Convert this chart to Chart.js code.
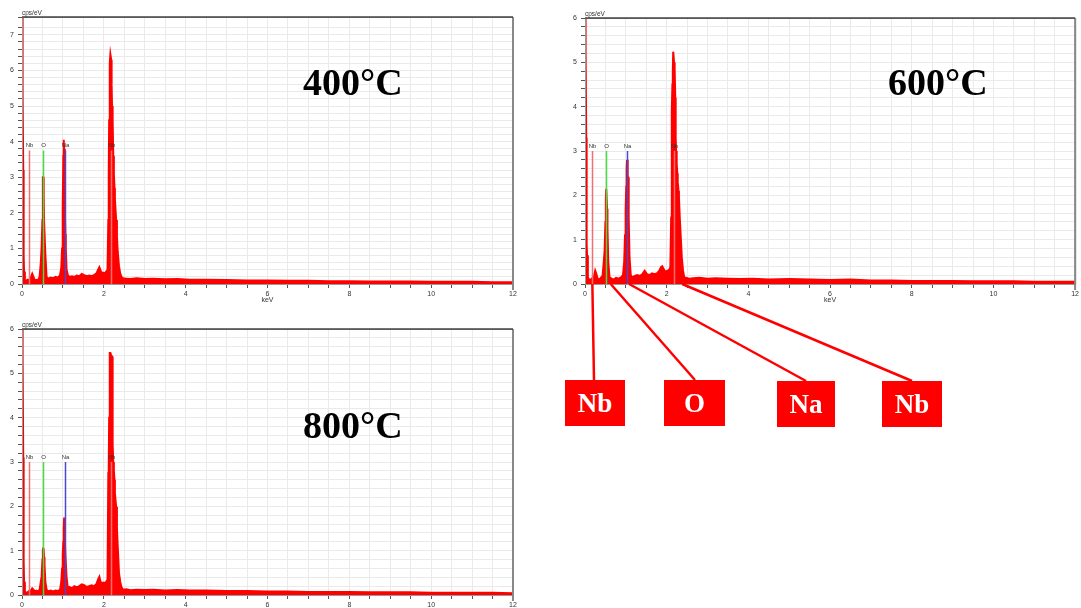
<!DOCTYPE html>
<html>
<head>
<meta charset="utf-8">
<script src="https://cdn.jsdelivr.net/npm/chart.js@4.4.1/dist/chart.umd.min.js"></script>
<style>
  html, body { margin: 0; padding: 0; background: #fff; overflow: hidden; width: 1081px; height: 608px; }
  canvas, .lbl, .box { position: absolute; }
  .lbl { font: bold 38px 'Liberation Serif', 'Times New Roman', serif; line-height: 38px; color: #000; white-space: nowrap; }
  .box { background: #ff0000; color: #fff; font: bold 27px 'Liberation Serif', 'Times New Roman', serif;
         display: flex; align-items: center; justify-content: center; z-index: 2; }
</style>
</head>
<body>
<canvas id="c400" width="525" height="310" style="left:0;top:0"></canvas>
<canvas id="c600" width="518" height="430" style="left:563px;top:0"></canvas>
<canvas id="c800" width="525" height="311" style="left:0;top:310px"></canvas>

<div class="lbl" style="left:303px;top:63px">400°C</div>
<div class="lbl" style="left:888px;top:63px">600°C</div>
<div class="lbl" style="left:303px;top:406px">800°C</div>

<div class="box" style="left:565px;top:380px;width:60px;height:46px">Nb</div>
<div class="box" style="left:664px;top:380px;width:61px;height:46px">O</div>
<div class="box" style="left:777px;top:381px;width:58px;height:46px">Na</div>
<div class="box" style="left:882px;top:381px;width:60px;height:46px">Nb</div>

<script>
// energy grid (keV), shared by the three spectra
const kev = [
  0.00, 0.01, 0.02, 0.03, 0.04, 0.05, 0.07, 0.10, 0.13, 0.16,
  0.19, 0.22, 0.25, 0.28, 0.31, 0.35, 0.39, 0.43, 0.46, 0.48,
  0.50, 0.51, 0.52, 0.53, 0.54, 0.55, 0.57, 0.60, 0.65, 0.70,
  0.76, 0.82, 0.88, 0.93, 0.96, 0.98, 0.99, 1.00, 1.01, 1.02,
  1.03, 1.04, 1.05, 1.06, 1.07, 1.09, 1.12, 1.16, 1.22, 1.28,
  1.34, 1.40, 1.46, 1.52, 1.58, 1.64, 1.70, 1.76, 1.82, 1.86,
  1.89, 1.92, 1.95, 1.98, 2.02, 2.06, 2.09, 2.11, 2.12, 2.13,
  2.14, 2.15, 2.16, 2.17, 2.18, 2.19, 2.20, 2.21, 2.22, 2.23,
  2.245, 2.26, 2.27, 2.29, 2.30, 2.32, 2.34, 2.37, 2.40, 2.43,
  2.47, 2.55, 2.65, 2.8, 3.0, 3.2, 3.5, 3.8, 4.1, 4.5,
  5.0, 5.5, 6.0, 6.5, 7.0, 7.5, 8.0, 8.5, 9.0, 9.5,
  10.0, 10.5, 11.0, 11.5, 12.0
];

// counts (cps/eV)
const cps400 = [
  7.6, 7.6, 5.3, 3.2, 0.8, 0.35, 0.1, 0.08, 0.12, 0.1,
  0.14, 0.2, 0.29, 0.2, 0.1, 0.12, 0.1, 0.2, 0.6, 1.05,
  1.8, 3.0, 3.0, 2.5, 1.75, 1.75, 0.85, 0.2, 0.15, 0.18,
  0.16, 0.2, 0.18, 0.25, 0.45, 1.0, 2.15, 2.15, 3.6, 4.05,
  3.8, 2.9, 2.15, 1.4, 1.0, 0.4, 0.25, 0.2, 0.22, 0.2,
  0.24, 0.22, 0.28, 0.25, 0.22, 0.24, 0.22, 0.25, 0.3, 0.4,
  0.47, 0.38, 0.3, 0.32, 0.3, 0.35, 0.4, 1.8, 3.1, 4.6,
  5.5, 6.2, 6.45, 6.45, 6.3, 5.6, 5.0, 4.6, 4.6, 3.6,
  3.1, 2.7, 2.4, 2.0, 1.8, 1.34, 0.9, 0.5, 0.3, 0.2,
  0.16, 0.15, 0.14, 0.16, 0.14, 0.15, 0.13, 0.14, 0.12, 0.12,
  0.11, 0.1, 0.1, 0.09, 0.09, 0.08, 0.08, 0.07, 0.07, 0.07,
  0.06, 0.06, 0.06, 0.05, 0.05
];
const cps600 = [
  6.1, 6.1, 5.2, 3.3, 0.9, 0.65, 0.15, 0.1, 0.08, 0.12,
  0.1, 0.18, 0.3, 0.22, 0.12, 0.1, 0.14, 0.18, 0.5, 0.75,
  1.4, 1.9, 2.15, 2.15, 1.7, 1.25, 0.5, 0.15, 0.12, 0.1,
  0.14, 0.12, 0.15, 0.2, 0.5, 1.1, 1.65, 1.65, 2.2, 2.6,
  2.8, 2.8, 2.4, 2.4, 1.5, 0.6, 0.2, 0.15, 0.18, 0.2,
  0.18, 0.22, 0.3, 0.22, 0.2, 0.24, 0.22, 0.24, 0.3, 0.38,
  0.4, 0.35, 0.3, 0.28, 0.3, 0.32, 0.38, 1.5, 2.0, 3.9,
  4.5, 4.8, 5.24, 5.24, 5.0, 4.8, 4.84, 4.2, 3.3, 3.0,
  2.7, 2.5, 2.3, 2.1, 1.96, 1.5, 1.14, 0.6, 0.3, 0.15,
  0.14, 0.12, 0.13, 0.14, 0.12, 0.13, 0.12, 0.11, 0.12, 0.1,
  0.11, 0.1, 0.09, 0.1, 0.08, 0.08, 0.07, 0.07, 0.07, 0.06,
  0.06, 0.06, 0.05, 0.05, 0.05
];
const cps800 = [
  6.1, 6.1, 5.3, 3.1, 0.8, 0.3, 0.08, 0.06, 0.05, 0.08,
  0.1, 0.1, 0.15, 0.12, 0.08, 0.1, 0.08, 0.12, 0.3, 0.42,
  0.8, 1.03, 1.05, 1.0, 0.85, 0.7, 0.3, 0.12, 0.08, 0.1,
  0.08, 0.1, 0.09, 0.12, 0.3, 0.6, 0.9, 0.9, 1.2, 1.5,
  1.75, 1.75, 1.3, 0.9, 0.9, 0.4, 0.15, 0.18, 0.15, 0.2,
  0.17, 0.2, 0.24, 0.22, 0.18, 0.2, 0.22, 0.2, 0.25, 0.35,
  0.41, 0.3, 0.26, 0.28, 0.27, 0.3, 0.35, 2.75, 2.9, 4.0,
  5.0, 5.46, 5.46, 5.46, 5.4, 5.38, 5.38, 4.2, 3.4, 3.0,
  2.8, 2.6, 2.3, 2.1, 1.99, 1.5, 1.09, 0.5, 0.3, 0.18,
  0.12, 0.13, 0.11, 0.12, 0.11, 0.12, 0.1, 0.11, 0.1, 0.1,
  0.09, 0.09, 0.08, 0.08, 0.07, 0.07, 0.07, 0.06, 0.06, 0.06,
  0.05, 0.05, 0.05, 0.05, 0.04
];

// element marker lines
const markerKev = [0.18, 0.52, 1.04, 2.17];
const markerNames = ['Nb', 'O', 'Na', 'Nb'];
const markerColors = ['#f07070', '#44dd44', '#4a4ad0', '#f07070'];

// callout lines on the 600°C spectrum: energy where each line leaves the axis,
// and the page point (top of the red box) where it ends
const calloutKev = [0.18, 0.63, 1.08, 2.38];
const calloutEnds = [[594, 380], [695, 380], [806, 381], [912, 381]];

const tickFont = { family: "'Liberation Sans', Arial, sans-serif", size: 7 };

const specDecor = {
  id: 'specDecor',
  afterDatasetsDraw(chart, args, opts) {
    const { ctx, chartArea: a, scales: { x, y } } = chart;
    const top = y.getPixelForValue(opts.markerTop);
    ctx.save();
    markerKev.forEach((k, i) => {
      const px = Math.round(x.getPixelForValue(k)) + 0.5;
      ctx.strokeStyle = markerColors[i];
      ctx.lineWidth = 1.5;
      ctx.beginPath();
      ctx.moveTo(px, a.bottom);
      ctx.lineTo(px, top);
      ctx.stroke();
      ctx.fillStyle = '#333';
      ctx.font = "6px 'Liberation Sans', Arial, sans-serif";
      ctx.textAlign = 'center';
      ctx.textBaseline = 'middle';
      ctx.fillText(markerNames[i], px, top - 5);
    });
    ctx.restore();
  },
  afterDraw(chart, args, opts) {
    const { ctx, chartArea: a, scales: { x } } = chart;
    ctx.save();
    // frame
    ctx.strokeStyle = '#999';
    ctx.lineWidth = 1;
    ctx.strokeRect(a.left + 0.5, a.top + 0.5, a.right - a.left, a.bottom - a.top);
    ctx.strokeStyle = '#888';
    ctx.lineWidth = 2;
    ctx.beginPath();
    ctx.moveTo(a.right, a.top);
    ctx.lineTo(a.right, a.bottom + 6);
    ctx.stroke();
    ctx.strokeStyle = '#444';
    ctx.lineWidth = 1.5;
    ctx.beginPath();
    ctx.moveTo(a.left, a.top);
    ctx.lineTo(a.right, a.top);
    ctx.stroke();
    ctx.fillStyle = '#333';
    ctx.font = "6.5px 'Liberation Sans', Arial, sans-serif";
    ctx.textAlign = 'left';
    ctx.textBaseline = 'bottom';
    ctx.fillText('cps/eV', a.left, a.top - 1);

    // callout lines (600°C only)
    if (opts.callouts) {
      const off = chart.canvas.offsetLeft;
      const offTop = chart.canvas.offsetTop;
      ctx.strokeStyle = '#ff0000';
      ctx.lineWidth = 2.5;
      calloutKev.forEach((k, i) => {
        ctx.beginPath();
        ctx.moveTo(x.getPixelForValue(k), a.bottom);
        ctx.lineTo(calloutEnds[i][0] - off, calloutEnds[i][1] - offTop);
        ctx.stroke();
      });
    }
    ctx.restore();
  }
};

function makeSpectrum(id, values, yMax, padTop, padRight, padBottom, callouts) {
  const points = kev.map((k, i) => ({ x: k, y: values[i] }));
  return new Chart(document.getElementById(id), {
    type: 'line',
    data: {
      datasets: [{
        data: points,
        borderColor: '#ff0000',
        backgroundColor: '#ff0000',
        borderWidth: 2,
        fill: 'origin',
        pointRadius: 0,
        tension: 0,
        clip: 0
      }]
    },
    options: {
      responsive: false,
      animation: false,
      events: [],
      layout: { padding: { top: padTop, right: padRight, bottom: padBottom, left: 0 } },
      plugins: {
        legend: { display: false },
        tooltip: { enabled: false },
        specDecor: { markerTop: yMax / 2, callouts: callouts }
      },
      scales: {
        x: {
          type: 'linear',
          min: 0,
          max: 12,
          afterFit: s => { s.height = 26; },
          grid: { color: '#eaeaea', tickColor: '#555', tickLength: 4 },
          border: { color: '#555' },
          ticks: {
            stepSize: 0.5,
            autoSkip: false,
            maxRotation: 0,
            padding: 2,
            color: '#333',
            font: tickFont,
            callback: v => (Math.abs(v / 2 - Math.round(v / 2)) < 1e-6 ? String(Math.round(v)) : '')
          },
          title: { display: true, text: 'keV', color: '#333', font: tickFont, padding: { top: 0, bottom: 6 } }
        },
        y: {
          min: 0,
          max: yMax,
          afterFit: s => { s.width = 22; },
          grid: { color: '#eaeaea', tickColor: '#555', tickLength: 4 },
          border: { color: '#555' },
          ticks: {
            stepSize: 0.2,
            autoSkip: false,
            padding: 4,
            color: '#333',
            font: tickFont,
            callback: v => (Math.abs(v - Math.round(v)) < 1e-6 ? String(Math.round(v)) : '')
          }
        }
      }
    },
    plugins: [specDecor]
  });
}

makeSpectrum('c400', cps400, 7.5, 17, 12, 0, false);
makeSpectrum('c600', cps600, 6, 18, 5, 120, true);
makeSpectrum('c800', cps800, 6, 19, 12, 0, false);
</script>
</body>
</html>
